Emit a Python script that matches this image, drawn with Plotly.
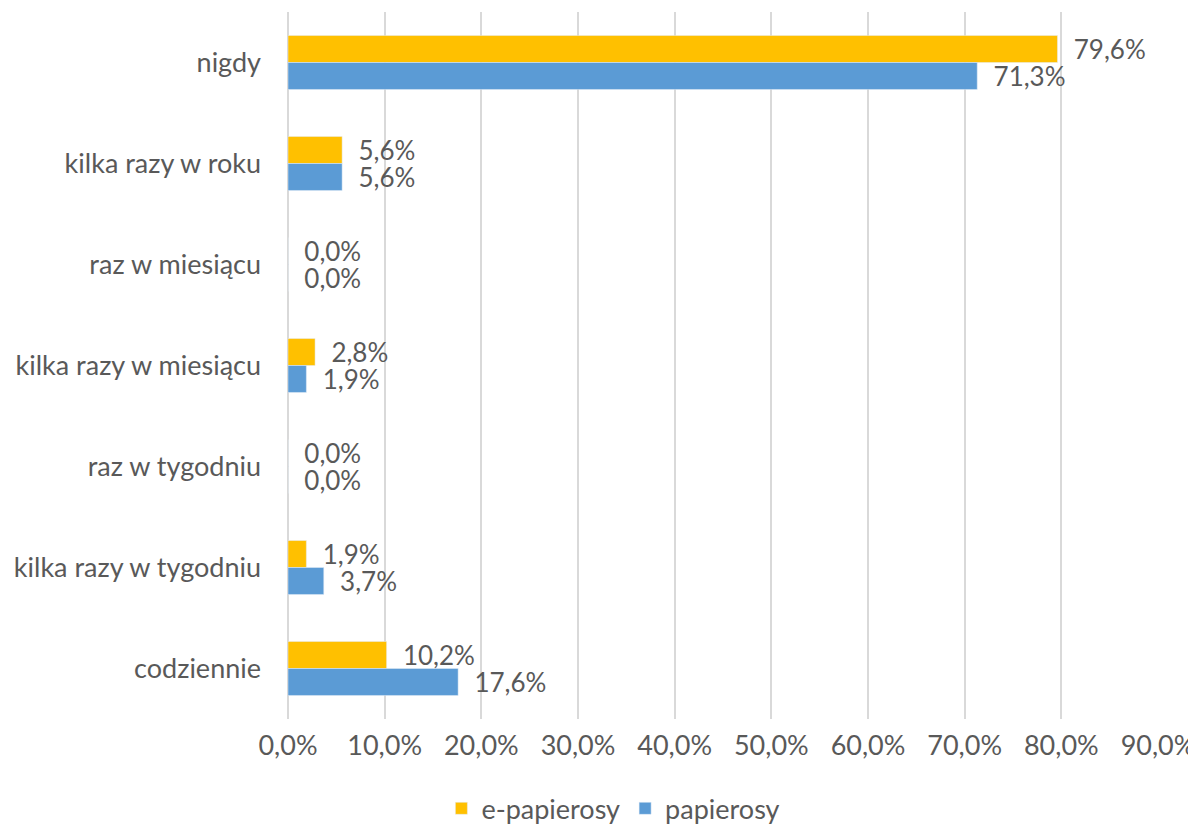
import plotly.graph_objects as go

categories = ["nigdy", "kilka razy w roku", "raz w miesiącu", "kilka razy w miesiącu",
              "raz w tygodniu", "kilka razy w tygodniu", "codziennie"]
e_papierosy = [0.796, 0.056, 0.0, 0.028, 0.0, 0.019, 0.102]
papierosy = [0.713, 0.056, 0.0, 0.019, 0.0, 0.037, 0.176]

font_name = "Lato"
text_color = "#595959"
grid_color = "#D9D9D9"
fsize = 27
label_size = 26

fig = go.Figure()
fig.add_trace(go.Bar(
    y=categories, x=e_papierosy, orientation="h", name="e-papierosy",
    marker=dict(color="#FFC000"),
    texttemplate="\u00a0\u00a0%{x:.1%}", textposition="outside",
    constraintext="none", cliponaxis=False,
    textfont=dict(size=label_size, color=text_color, family=font_name),
))
fig.add_trace(go.Bar(
    y=categories, x=papierosy, orientation="h", name="papierosy",
    marker=dict(color="#5B9BD5"),
    texttemplate="\u00a0\u00a0%{x:.1%}", textposition="outside",
    constraintext="none", cliponaxis=False,
    textfont=dict(size=label_size, color=text_color, family=font_name),
))

# page body adds an 8px margin, so the figure is a little smaller
fig.update_layout(
    width=1188, height=822,
    margin=dict(l=280, r=38, t=4, b=111, autoexpand=False),
    barmode="group", bargap=0.466, bargroupgap=0,
    separators=", ",
    plot_bgcolor="white", paper_bgcolor="white",
    font=dict(family=font_name, size=fsize, color=text_color),
    legend=dict(orientation="h", x=0.374, xanchor="center",
                y=-0.127, yanchor="middle",
                font=dict(size=fsize, color=text_color), itemwidth=30,
                traceorder="normal"),
    xaxis=dict(range=[0, 0.9], dtick=0.1, tickformat=".1%",
               showgrid=True, gridcolor=grid_color, gridwidth=1.5,
               zeroline=True, zerolinecolor=grid_color, zerolinewidth=1.5,
               showline=False, ticks="", automargin=False,
               ticklabelstandoff=8),
    yaxis=dict(autorange="reversed", showgrid=False, showline=False,
               ticks="", ticklabelstandoff=26, automargin=False),
)

fig.write_html("out.html")
